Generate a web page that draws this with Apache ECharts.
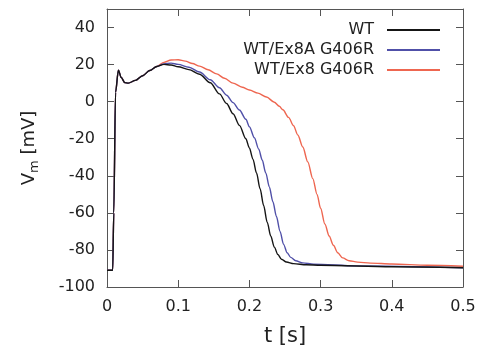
<!DOCTYPE html>
<html>
<head>
<meta charset="utf-8">
<script src="https://cdn.jsdelivr.net/npm/echarts@6/dist/echarts.min.js"></script>
<style>
  html, body { margin: 0; padding: 0; background: #fff; }
  #chart { width: 487px; height: 352px; }
</style>
</head>
<body>
<div id="chart"></div>
<script>
// upstroke + notch, shared by all three traces
const tStart = [0, 0.008, 0.0095, 0.012, 0.016, 0.02, 0.025, 0.03, 0.04, 0.05, 0.06, 0.07];
const vStart = [-91, -91, -60, 5, 17, 13, 10.3, 10, 11.5, 14, 16.8, 19];

const tWT = [0.08, 0.09, 0.1, 0.115, 0.13, 0.145, 0.158, 0.168, 0.177, 0.186, 0.195, 0.2, 0.205, 0.21, 0.215, 0.22, 0.225, 0.23, 0.235, 0.24, 0.245, 0.252, 0.262, 0.28, 0.3, 0.4, 0.5];
const vWT = [20.1, 19.8, 18.8, 17.3, 14.8, 10.2, 4.2, -1, -6.5, -12.8, -20, -25, -31, -38.5, -47, -56, -65, -72.5, -78.5, -82.5, -85, -86.5, -87.4, -88, -88.3, -89.1, -89.6];

const tEx8A = [0.08, 0.09, 0.1, 0.115, 0.13, 0.145, 0.158, 0.168, 0.177, 0.186, 0.195, 0.2, 0.207, 0.213, 0.218, 0.223, 0.228, 0.233, 0.238, 0.243, 0.248, 0.253, 0.258, 0.265, 0.275, 0.29, 0.35, 0.5];
const vEx8A = [20.4, 20.8, 20.1, 18.6, 16, 11.8, 7.5, 3.5, -0.5, -4.5, -9.5, -13.5, -19.5, -25.5, -31.5, -38.5, -46, -54, -62, -70, -77, -81.5, -84, -85.8, -87, -87.7, -88.6, -89.6];

const tEx8 = [0.08, 0.09, 0.1, 0.11, 0.12, 0.13, 0.142, 0.154, 0.165, 0.177, 0.19, 0.2, 0.212, 0.224, 0.235, 0.242, 0.247, 0.255, 0.262, 0.268, 0.275, 0.282, 0.289, 0.295, 0.3, 0.306, 0.312, 0.318, 0.324, 0.331, 0.34, 0.352, 0.37, 0.4, 0.45, 0.5];
const vEx8 = [21.2, 22.5, 22.6, 21.9, 20.6, 19.2, 17.2, 15, 12.6, 10, 7.8, 6.3, 4.6, 2.5, -0.3, -2.5, -4.4, -8.5, -13, -18, -24.5, -32.5, -41.5, -50, -57.5, -66, -72.5, -77.5, -81.5, -84.3, -85.8, -86.6, -87.1, -87.6, -88.3, -88.8];

const names = ['WT', 'WT/Ex8A G406R', 'WT/Ex8 G406R'];
const colors = ['#151515', '#5050a8', '#ee6650'];

const pairs = (t, v) => tStart.concat(t).map((x, i) => [x, vStart.concat(v)[i]]);
const traces = [pairs(tWT, vWT), pairs(tEx8A, vEx8A), pairs(tEx8, vEx8)];

const font = 'DejaVu Sans';
const frame = '#555';

const xBase = {
  type: 'value',
  min: 0,
  max: 0.5,
  interval: 0.1,
  splitLine: { show: false },
  axisLine: { show: true, onZero: false, lineStyle: { color: frame } },
  axisTick: { show: true, inside: true, length: 7, lineStyle: { color: frame } },
};
const yBase = {
  type: 'value',
  min: -100,
  max: 50,
  interval: 20,
  splitLine: { show: false },
  axisLine: { show: true, onZero: false, lineStyle: { color: frame } },
  axisTick: { show: true, inside: true, length: 7, lineStyle: { color: frame } },
};

const option = {
  backgroundColor: '#fff',
  animation: false,
  grid: { left: 107, right: 24, top: 9, bottom: 61, containLabel: false },
  legend: {
    orient: 'vertical',
    align: 'right',
    right: 41,
    top: 17,
    itemGap: 4,
    itemWidth: 53,
    itemHeight: 14,
    data: names,
    itemStyle: { opacity: 0 },
    textStyle: { fontFamily: font, fontSize: 16, color: '#222', padding: [0, 8, 0, 0] },
  },
  xAxis: [
    Object.assign({}, xBase, {
      position: 'bottom',
      name: 't [s]',
      nameLocation: 'middle',
      nameGap: 39,
      nameTextStyle: { fontFamily: font, fontSize: 21, color: '#222' },
      axisLabel: {
        fontFamily: font, fontSize: 16, color: '#222', margin: 12,
        formatter: (v) => (v === 0 ? '0' : v.toFixed(1)),
      },
    }),
    Object.assign({}, xBase, { position: 'top', axisLabel: { show: false } }),
  ],
  yAxis: [
    Object.assign({}, yBase, {
      position: 'left',
      name: '{a|V}{b|m}{a| [mV]}',
      nameLocation: 'middle',
      nameGap: 66,
      nameTextStyle: {
        rich: {
          a: { fontFamily: font, fontSize: 18, color: '#222' },
          b: { fontFamily: font, fontSize: 13, color: '#222', verticalAlign: 'bottom', padding: [10, 0, 0, 0] },
        },
      },
      axisLabel: {
        fontFamily: font, fontSize: 16, color: '#222', margin: 12,
        formatter: (v) => (v > 40 ? '' : String(v)),
      },
    }),
    Object.assign({}, yBase, { position: 'right', axisLabel: { show: false } }),
  ],
  series: names.map((n, i) => ({
    name: n,
    type: 'line',
    xAxisIndex: 0,
    yAxisIndex: 0,
    data: traces[i],
    symbol: 'none',
    smooth: 0.3,
    smoothMonotone: 'x',
    lineStyle: { color: colors[i], width: 1.4 },
    itemStyle: { color: colors[i] },
    z: 10 - i,
  })),
};

const myChart = echarts.init(document.getElementById('chart'));
myChart.setOption(option);
</script>
</body>
</html>
